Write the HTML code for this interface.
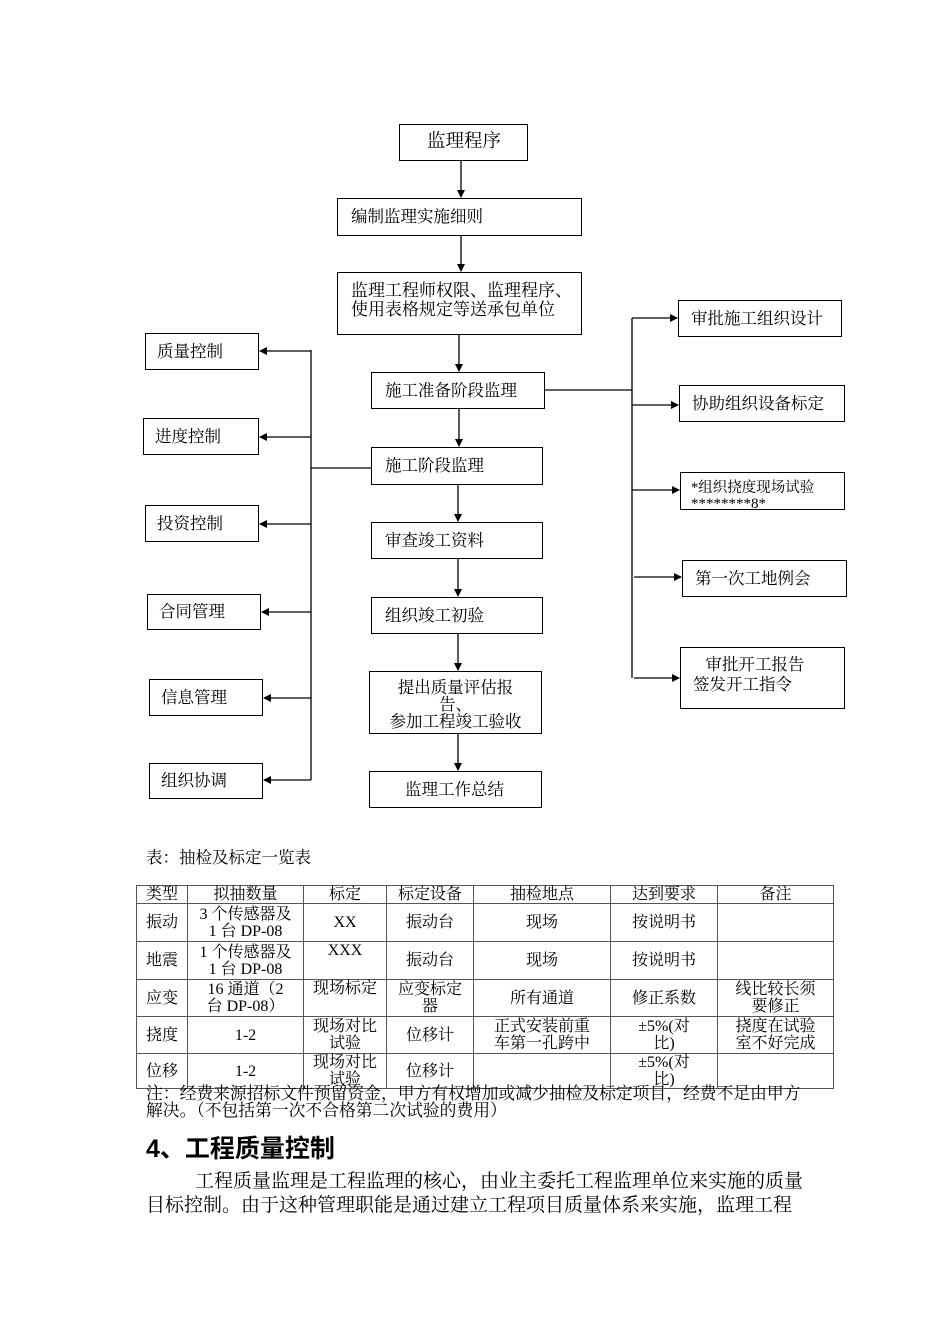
<!DOCTYPE html>
<html><head><meta charset="utf-8"><style>
body{margin:0;background:#fff;}
#p{position:relative;width:950px;height:1344px;font-family:"Liberation Serif","Noto Serif CJK SC","Noto Sans CJK SC",serif;color:#000;}
.b{position:absolute;border:1.3px solid #000;box-sizing:border-box;font-size:16.5px;line-height:19px;background:#fff;white-space:nowrap;}
.t{position:absolute;font-size:16.5px;line-height:18px;white-space:nowrap;}
table{position:absolute;left:136px;top:885px;border-collapse:collapse;font-size:16px;line-height:17px;}
td{border:1px solid #555;text-align:center;padding:0;vertical-align:middle;white-space:nowrap;}
</style></head><body><div id="p">
<svg width="950" height="1344" style="position:absolute;left:0;top:0">
<defs><marker id="a" markerWidth="8" markerHeight="8" refX="7" refY="4" orient="auto" markerUnits="userSpaceOnUse"><path d="M0,0L8,4L0,8z" fill="#000"/></marker></defs>
<g stroke="#000" stroke-width="1.3" fill="none">
<line x1="461" y1="161" x2="461" y2="197" marker-end="url(#a)"/>
<line x1="461" y1="236" x2="461" y2="271" marker-end="url(#a)"/>
<line x1="459" y1="335" x2="459" y2="371" marker-end="url(#a)"/>
<line x1="459" y1="409" x2="459" y2="446" marker-end="url(#a)"/>
<line x1="458" y1="485" x2="458" y2="521" marker-end="url(#a)"/>
<line x1="458" y1="559" x2="458" y2="596" marker-end="url(#a)"/>
<line x1="458" y1="634" x2="458" y2="670" marker-end="url(#a)"/>
<line x1="458" y1="734" x2="458" y2="770" marker-end="url(#a)"/>
<line x1="311" y1="350" x2="311" y2="780"/>
<line x1="311" y1="468" x2="371" y2="468"/>
<line x1="311" y1="351" x2="260" y2="351" marker-end="url(#a)"/>
<line x1="311" y1="437" x2="260" y2="437" marker-end="url(#a)"/>
<line x1="311" y1="524" x2="260" y2="524" marker-end="url(#a)"/>
<line x1="311" y1="612" x2="262" y2="612" marker-end="url(#a)"/>
<line x1="311" y1="698" x2="264" y2="698" marker-end="url(#a)"/>
<line x1="311" y1="780" x2="264" y2="780" marker-end="url(#a)"/>
<line x1="545" y1="390" x2="632" y2="390"/>
<line x1="632" y1="318" x2="632" y2="678"/>
<line x1="632" y1="318" x2="677" y2="318" marker-end="url(#a)"/>
<line x1="632" y1="405" x2="678" y2="405" marker-end="url(#a)"/>
<line x1="632" y1="490" x2="679" y2="490" marker-end="url(#a)"/>
<line x1="634" y1="577" x2="681" y2="577" marker-end="url(#a)"/>
<line x1="634" y1="678" x2="679" y2="678" marker-end="url(#a)"/>
</g></svg>
<div class="b" style="left:399px;top:124px;width:129px;height:37px;font-size:18.5px;padding:8px 0 0 27px">监理程序</div>
<div class="b" style="left:337px;top:198px;width:245px;height:38px;padding:8px 0 0 13px">编制监理实施细则</div>
<div class="b" style="left:337px;top:272px;width:245px;height:63px;padding:8px 0 0 13px;font-size:17px">监理工程师权限、监理程序、<br>使用表格规定等送承包单位</div>
<div class="b" style="left:371px;top:372px;width:174px;height:37px;padding:8px 0 0 13px">施工准备阶段监理</div>
<div class="b" style="left:371px;top:447px;width:172px;height:38px;padding:8px 0 0 13px">施工阶段监理</div>
<div class="b" style="left:371px;top:522px;width:172px;height:37px;padding:8px 0 0 13px">审查竣工资料</div>
<div class="b" style="left:371px;top:597px;width:172px;height:37px;padding:8px 0 0 13px">组织竣工初验</div>
<div class="b" style="left:369px;top:671px;width:173px;height:63px;padding:7px 0 0 0;text-align:center;line-height:17px">提出质量评估报<br>告、<br>参加工程竣工验收</div>
<div class="b" style="left:369px;top:771px;width:173px;height:37px;padding:8px 0 0 35px">监理工作总结</div>
<div class="b" style="left:145px;top:333px;width:114px;height:37px;padding:8px 0 0 11px">质量控制</div>
<div class="b" style="left:143px;top:418px;width:116px;height:37px;padding:8px 0 0 11px">进度控制</div>
<div class="b" style="left:145px;top:505px;width:114px;height:37px;padding:8px 0 0 11px">投资控制</div>
<div class="b" style="left:147px;top:594px;width:114px;height:36px;padding:7px 0 0 11px">合同管理</div>
<div class="b" style="left:149px;top:679px;width:114px;height:37px;padding:8px 0 0 11px">信息管理</div>
<div class="b" style="left:149px;top:763px;width:114px;height:36px;padding:7px 0 0 11px">组织协调</div>
<div class="b" style="left:678px;top:300px;width:164px;height:37px;padding:8px 0 0 12px">审批施工组织设计</div>
<div class="b" style="left:679px;top:385px;width:166px;height:37px;padding:8px 0 0 12px">协助组织设备标定</div>
<div class="b" style="left:680px;top:472px;width:165px;height:38px;padding:7px 0 0 10px;font-size:14.5px;line-height:16px;overflow:visible">*组织挠度现场试验<br><span style="font-size:15px">********8*</span></div>
<div class="b" style="left:682px;top:560px;width:165px;height:37px;padding:8px 0 0 12px">第一次工地例会</div>
<div class="b" style="left:680px;top:647px;width:165px;height:62px;padding:7px 0 0 12px;line-height:20px">&nbsp;&nbsp;&nbsp;审批开工报告<br>签发开工指令</div>
<div class="t" style="left:146px;top:849px">表：抽检及标定一览表</div>
<table>
<tr style="height:18px"><td style="width:50px">类型</td><td style="width:115px">拟抽数量</td><td style="width:82px">标定</td><td style="width:86px">标定设备</td><td style="width:136px">抽检地点</td><td style="width:106px">达到要求</td><td style="width:115px">备注</td></tr>
<tr style="height:38px"><td>振动</td><td>3 个传感器及<br>1 台 DP-08</td><td>XX</td><td>振动台</td><td>现场</td><td>按说明书</td><td></td></tr>
<tr style="height:38px"><td>地震</td><td>1 个传感器及<br>1 台 DP-08</td><td style="vertical-align:top">XXX</td><td>振动台</td><td>现场</td><td>按说明书</td><td></td></tr>
<tr style="height:37px"><td>应变</td><td>16 通道（2<br>台 DP-08）</td><td style="vertical-align:top">现场标定</td><td>应变标定<br>器</td><td>所有通道</td><td>修正系数</td><td>线比较长须<br>要修正</td></tr>
<tr style="height:37px"><td>挠度</td><td>1-2</td><td>现场对比<br>试验</td><td>位移计</td><td>正式安装前重<br>车第一孔跨中</td><td>±5%(对<br>比)</td><td>挠度在试验<br>室不好完成</td></tr>
<tr style="height:34px"><td>位移</td><td>1-2</td><td>现场对比<br>试验</td><td>位移计</td><td></td><td>±5%(对<br>比)</td><td></td></tr>
</table>
<div class="t" style="left:146px;top:1085px;line-height:17px;font-size:16.8px">注：经费来源招标文件预留资金，甲方有权增加或减少抽检及标定项目，经费不足由甲方<br>解决。（不包括第一次不合格第二次试验的费用）</div>
<div class="t" style="left:146px;top:1135px;font-family:'Liberation Sans','Noto Sans CJK SC',sans-serif;font-weight:bold;font-size:25px;line-height:28px">4、工程质量控制</div>
<div class="t" style="left:146px;top:1170px;font-size:19px;line-height:24px"><span style="display:inline-block;width:49px"></span>工程质量监理是工程监理的核心，由业主委托工程监理单位来实施的质量<br>目标控制。由于这种管理职能是通过建立工程项目质量体系来实施，监理工程</div>
</div></body></html>
